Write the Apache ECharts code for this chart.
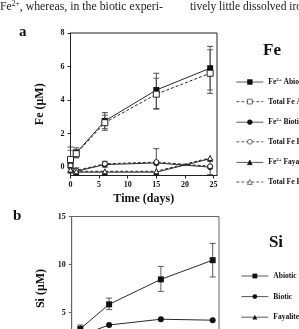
<!DOCTYPE html>
<html>
<head>
<meta charset="utf-8">
<script src="https://cdn.jsdelivr.net/npm/echarts@6/dist/echarts.min.js"></script>
<style>
html, body { margin: 0; padding: 0; background: #fff; overflow: hidden; }
#main { width: 299px; height: 400px; }
</style>
</head>
<body>
<div id="main"></div>
<script>
// panel a: iron (days / uM)
var daysA = [0, 1, 6, 15, 24.4];
var fe2Abiotic = [0.3, 0.85, 2.75, 4.6, 5.9];
var fe2AbioticLow = [-0.3, 0.55, 2.2, 3.5, 4.4];
var fe2AbioticHigh = [1.2, 1.15, 3.25, 5.6, 7.2];
var totAbiotic = [0.45, 0.8, 2.65, 4.35, 5.6];
var totAbioticLow = [-0.1, 0.6, 2.3, 3.45, 4.6];
var totAbioticHigh = [1.0, 1.05, 3.1, 5.3, 7.0];
var fe2Biotic = [0.05, -0.25, 0.15, 0.25, 0.0];
var fe2BioticLow = [-0.3, -0.45, 0.0, -0.5, -0.45];
var fe2BioticHigh = [0.4, -0.05, 0.35, 1.1, 0.45];
var totBiotic = [0.1, -0.2, 0.2, 0.3, 0.05];
var fe2Fayalite = [-0.2, -0.3, -0.3, -0.3, 0.5];
var totFayalite = [-0.15, -0.25, -0.25, -0.25, 0.55];
var ticksFeY = [0, 2, 4, 6, 8];
var ticksTimeX = [0, 5, 10, 15, 20, 25];

// panel b: silicon
var daysB = [1, 6, 15, 24];
var siAbiotic = [3.3, 5.85, 8.45, 10.45];
var siAbioticLow = [2.9, 5.3, 7.2, 8.7];
var siAbioticHigh = [3.7, 6.5, 9.8, 12.2];
var siBiotic = [2.6, 3.7, 4.3, 4.2];
var siFayalite = [0.9, 1.2, 1.5, 1.7];
var ticksSiY = [0, 5, 10, 15];

var legendA = ['Fe2+ Abiotic', 'Total Fe Abiotic', 'Fe2+ Biotic', 'Total Fe Biotic', 'Fe2+ Fayalite', 'Total Fe Fayalite'];
var legendB = ['Abiotic', 'Biotic', 'Fayalite'];

var serif = 'Liberation Serif, Times New Roman, serif';

function pts(xs, ys) {
  return xs.map(function (x, i) { return [x, ys[i]]; });
}
function bars(xs, lo, hi) {
  return xs.map(function (x, i) { return [x, lo[i], hi[i]]; });
}

function errSeries(name, xi, yi, data, color) {
  return {
    name: name, type: 'custom', xAxisIndex: xi, yAxisIndex: yi, z: 1,
    silent: true,
    data: data,
    encode: { x: 0, y: [1, 2] },
    renderItem: function (params, api) {
      var lo = api.coord([api.value(0), api.value(1)]);
      var hi = api.coord([api.value(0), api.value(2)]);
      var w = 3;
      var st = { stroke: color, lineWidth: 0.8 };
      return {
        type: 'group',
        children: [
          { type: 'line', shape: { x1: lo[0], y1: lo[1], x2: hi[0], y2: hi[1] }, style: st },
          { type: 'line', shape: { x1: lo[0] - w, y1: lo[1], x2: lo[0] + w, y2: lo[1] }, style: st },
          { type: 'line', shape: { x1: hi[0] - w, y1: hi[1], x2: hi[0] + w, y2: hi[1] }, style: st }
        ]
      };
    }
  };
}

function lineSeries(name, xi, yi, data, symbol, open, dashed, size) {
  return {
    name: name, type: 'line', xAxisIndex: xi, yAxisIndex: yi, z: 3,
    data: data,
    symbol: symbol,
    symbolSize: size || 6,
    showAllSymbol: true,
    lineStyle: { color: '#111', width: 0.9, type: dashed ? [3, 2] : 'solid' },
    itemStyle: { color: open ? '#fff' : '#111', borderColor: '#111', borderWidth: open ? 0.9 : 0 },
    emphasis: { disabled: true }
  };
}

function legendFmt(name) {
  if (name.indexOf('Fe2+') === 0) {
    return '{t|Fe}{s|2+}{t|' + name.slice(4) + '}';
  }
  return '{t|' + name + '}';
}

var axisTxt = { fontFamily: serif, fontWeight: 'bold', fontSize: 8, color: '#111' };
var nameTxt = { fontFamily: serif, fontWeight: 'bold', fontSize: 12, color: '#111' };

var chart = echarts.init(document.getElementById('main'));
chart.setOption({
  animation: false,
  grid: [
    { left: 70.5, top: 33, width: 146.5, height: 142.5, show: true, borderColor: '#222', borderWidth: 1, backgroundColor: 'transparent' },
    { left: 71.7, top: 216.5, width: 147.3, height: 144, show: true, borderColor: '#666', borderWidth: 1, backgroundColor: 'transparent' }
  ],
  xAxis: [
    {
      gridIndex: 0, type: 'value', min: 0, max: 25.6,
      name: 'Time (days)', nameLocation: 'middle', nameGap: 17, nameTextStyle: nameTxt,
      axisLine: { onZero: false, lineStyle: { color: '#222', width: 1 } },
      axisTick: { length: 3, customValues: ticksTimeX, lineStyle: { color: '#222' } },
      axisLabel: Object.assign({ margin: 5, customValues: ticksTimeX }, axisTxt),
      splitLine: { show: false }
    },
    {
      gridIndex: 1, type: 'value', min: -0.5, max: 25.1,
      axisLine: { onZero: false, lineStyle: { color: '#666', width: 1 } },
      axisTick: { show: false },
      axisLabel: { show: false },
      splitLine: { show: false }
    }
  ],
  yAxis: [
    {
      gridIndex: 0, type: 'value', min: -0.5, max: 8,
      name: 'Fe (μM)', nameLocation: 'middle', nameGap: 25, nameRotate: 90, nameTextStyle: nameTxt,
      axisLine: { onZero: false, lineStyle: { color: '#222', width: 1 } },
      axisTick: { length: 3, customValues: ticksFeY, lineStyle: { color: '#222' } },
      axisLabel: Object.assign({ margin: 6, customValues: ticksFeY }, axisTxt),
      splitLine: { show: false }
    },
    {
      gridIndex: 1, type: 'value', min: 0, max: 15,
      name: 'Si (μM)', nameLocation: 'middle', nameGap: 25, nameRotate: 90, nameTextStyle: nameTxt,
      axisLine: { onZero: false, lineStyle: { color: '#666', width: 1 } },
      axisTick: { length: 3, customValues: ticksSiY, lineStyle: { color: '#666' } },
      axisLabel: Object.assign({ margin: 6, customValues: ticksSiY }, axisTxt),
      splitLine: { show: false }
    }
  ],
  legend: [
    {
      data: legendA, orient: 'vertical', left: 231, top: 72,
      itemWidth: 27, itemHeight: 6, itemGap: 11.6,
      selectedMode: false,
      lineStyle: { width: 0.7 },
      itemStyle: { borderWidth: 0.6 },
      formatter: legendFmt,
      textStyle: {
        rich: {
          t: { fontFamily: serif, fontWeight: 'bold', fontSize: 7.5, color: '#111', lineHeight: 10 },
          s: { fontFamily: serif, fontWeight: 'bold', fontSize: 5, color: '#111', lineHeight: 5, verticalAlign: 'top' }
        }
      }
    },
    {
      data: legendB, orient: 'vertical', left: 236, top: 267,
      itemWidth: 27, itemHeight: 6, itemGap: 12.6,
      selectedMode: false,
      lineStyle: { width: 0.7 },
      textStyle: { fontFamily: serif, fontWeight: 'bold', fontSize: 7.5, color: '#111' }
    }
  ],
  graphic: [
    {
      type: 'text', left: 0, top: 0,
      style: {
        x: 0, y: 0,
        text: '{t|Fe}{s|2+}{t|, whereas, in the biotic experi-}',
        rich: {
          t: { fontFamily: serif, fontSize: 11.8, fill: '#222', lineHeight: 14 },
          s: { fontFamily: serif, fontSize: 7.5, fill: '#222', lineHeight: 8, verticalAlign: 'top' }
        }
      }
    },
    { type: 'text', style: { x: 190, y: 1, text: 'tively little dissolved iron', font: '11.5px ' + serif, fill: '#222', textVerticalAlign: 'top' } },
    { type: 'text', style: { x: 19, y: 32, text: 'a', font: 'bold 15px ' + serif, fill: '#111', textVerticalAlign: 'middle' } },
    { type: 'text', style: { x: 13, y: 216.5, text: 'b', font: 'bold 15px ' + serif, fill: '#111', textVerticalAlign: 'middle' } },
    { type: 'text', style: { x: 272, y: 51, text: 'Fe', font: 'bold 17px ' + serif, fill: '#111', textAlign: 'center', textVerticalAlign: 'middle' } },
    { type: 'text', style: { x: 276, y: 242.5, text: 'Si', font: 'bold 17px ' + serif, fill: '#111', textAlign: 'center', textVerticalAlign: 'middle' } }
  ],
  series: [
    errSeries('errA1', 0, 0, bars(daysA, fe2AbioticLow, fe2AbioticHigh), '#222'),
    errSeries('errA2', 0, 0, bars(daysA, totAbioticLow, totAbioticHigh), '#444'),
    errSeries('errA3', 0, 0, bars(daysA, fe2BioticLow, fe2BioticHigh), '#222'),
    lineSeries('Fe2+ Abiotic', 0, 0, pts(daysA, fe2Abiotic), 'rect', false, false, 6),
    lineSeries('Total Fe Abiotic', 0, 0, pts(daysA, totAbiotic), 'rect', true, true, 6),
    lineSeries('Fe2+ Biotic', 0, 0, pts(daysA, fe2Biotic), 'circle', false, false, 6),
    lineSeries('Total Fe Biotic', 0, 0, pts(daysA, totBiotic), 'circle', true, true, 5),
    lineSeries('Fe2+ Fayalite', 0, 0, pts(daysA, fe2Fayalite), 'triangle', false, false, 6),
    lineSeries('Total Fe Fayalite', 0, 0, pts(daysA, totFayalite), 'triangle', true, true, 5),
    errSeries('errB1', 1, 1, bars(daysB, siAbioticLow, siAbioticHigh), '#333'),
    lineSeries('Abiotic', 1, 1, pts(daysB, siAbiotic), 'rect', false, false, 6),
    lineSeries('Biotic', 1, 1, pts(daysB, siBiotic), 'circle', false, false, 6),
    lineSeries('Fayalite', 1, 1, pts(daysB, siFayalite), 'triangle', false, false, 6)
  ]
});
</script>
</body>
</html>
